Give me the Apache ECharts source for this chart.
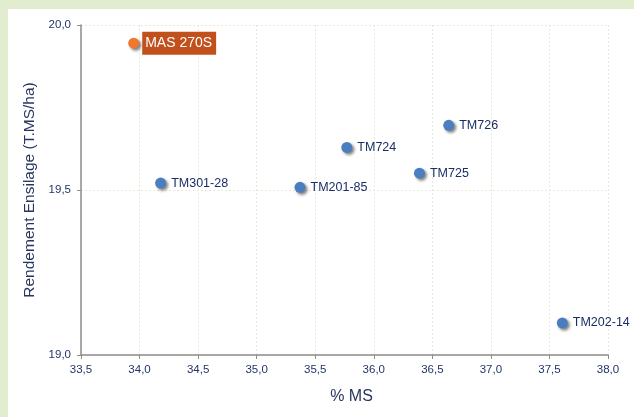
<!DOCTYPE html>
<html>
<head>
<meta charset="utf-8">
<script src="https://cdn.jsdelivr.net/npm/echarts@6/dist/echarts.min.js"></script>
<style>
html,body{margin:0;padding:0;}
#wrap{position:relative;width:634px;height:417px;background:#E2EDCF;overflow:hidden;}
#chart{position:absolute;left:8px;top:9px;width:626px;height:408px;background:#ffffff;}
</style>
</head>
<body>
<div id="wrap"><div id="chart"></div></div>
<script>
const names = ['MAS 270S','TM301-28','TM201-85','TM724','TM726','TM725','TM202-14'];
const pctMS = [33.95, 34.18, 35.37, 35.77, 36.64, 36.39, 37.61];
const rendement = [19.945, 19.521, 19.508, 19.629, 19.696, 19.551, 19.097];
const xTicks = {min: 33.5, max: 38.0, interval: 0.5};
const yTicks = {min: 19.0, max: 20.0, interval: 0.5};

const fmt = v => v.toFixed(1).replace('.', ',');
const font = 'Liberation Sans, Arial, sans-serif';

const highlight = names.map((n,i)=>({n,i})).filter(o=>o.i===0).map(o=>({value:[pctMS[o.i], rendement[o.i]], name:o.n}));
const others = names.map((n,i)=>({n,i})).filter(o=>o.i!==0).map(o=>({value:[pctMS[o.i], rendement[o.i]], name:o.n}));

const chart = echarts.init(document.getElementById('chart'));
const gridLine = {show:true, lineStyle:{color:'#E9E9DA', type:[2,2], width:1}};
chart.setOption({
  animation:false,
  grid:{left:73, right:26, top:16, bottom:62, show:false},
  xAxis:{
    type:'value', min:xTicks.min, max:xTicks.max, interval:xTicks.interval,
    name:'% MS', nameLocation:'middle', nameGap:34,
    nameTextStyle:{color:'#28365F', fontSize:16, fontFamily:font, padding:[0,0,0,14]},
    axisLine:{show:true, onZero:false, lineStyle:{color:'#8C8C8C', width:1.5}},
    axisTick:{show:true, length:4, lineStyle:{color:'#8C8C8C'}},
    axisLabel:{color:'#24346A', fontSize:11.5, fontFamily:font, margin:9, formatter:fmt, showMinLabel:true, showMaxLabel:true},
    splitLine:gridLine
  },
  yAxis:{
    type:'value', min:yTicks.min, max:yTicks.max, interval:yTicks.interval,
    name:'Rendement Ensilage (T.MS/ha)', nameLocation:'middle', nameGap:40,
    nameTextStyle:{color:'#28365F', fontSize:15.5, fontFamily:font},
    axisLine:{show:true, onZero:false, lineStyle:{color:'#8C8C8C', width:1.5}},
    axisTick:{show:true, length:4, lineStyle:{color:'#8C8C8C'}},
    axisLabel:{color:'#24346A', fontSize:11.5, fontFamily:font, margin:10, formatter:fmt},
    splitLine:gridLine
  },
  series:[
    {
      type:'scatter', data:others, symbolSize:11,
      itemStyle:{color:'#4A7EBF', opacity:1, shadowColor:'rgba(0,0,0,0.5)', shadowBlur:3, shadowOffsetX:2, shadowOffsetY:2},
      label:{show:true, position:'right', distance:5, formatter:p=>p.name, color:'#1A2E66', fontSize:12.5, fontFamily:font},
      emphasis:{disabled:true}
    },
    {
      type:'scatter', data:highlight, symbolSize:11,
      itemStyle:{color:'#F0772E', opacity:1, shadowColor:'rgba(0,0,0,0.5)', shadowBlur:3, shadowOffsetX:2, shadowOffsetY:2},
      label:{show:true, position:'right', distance:3, formatter:p=>p.name, color:'#ffffff', fontSize:14, fontFamily:font,
        backgroundColor:'#C2501C', padding:[5,4,4,3]},
      emphasis:{disabled:true}
    }
  ]
});
</script>
</body>
</html>
